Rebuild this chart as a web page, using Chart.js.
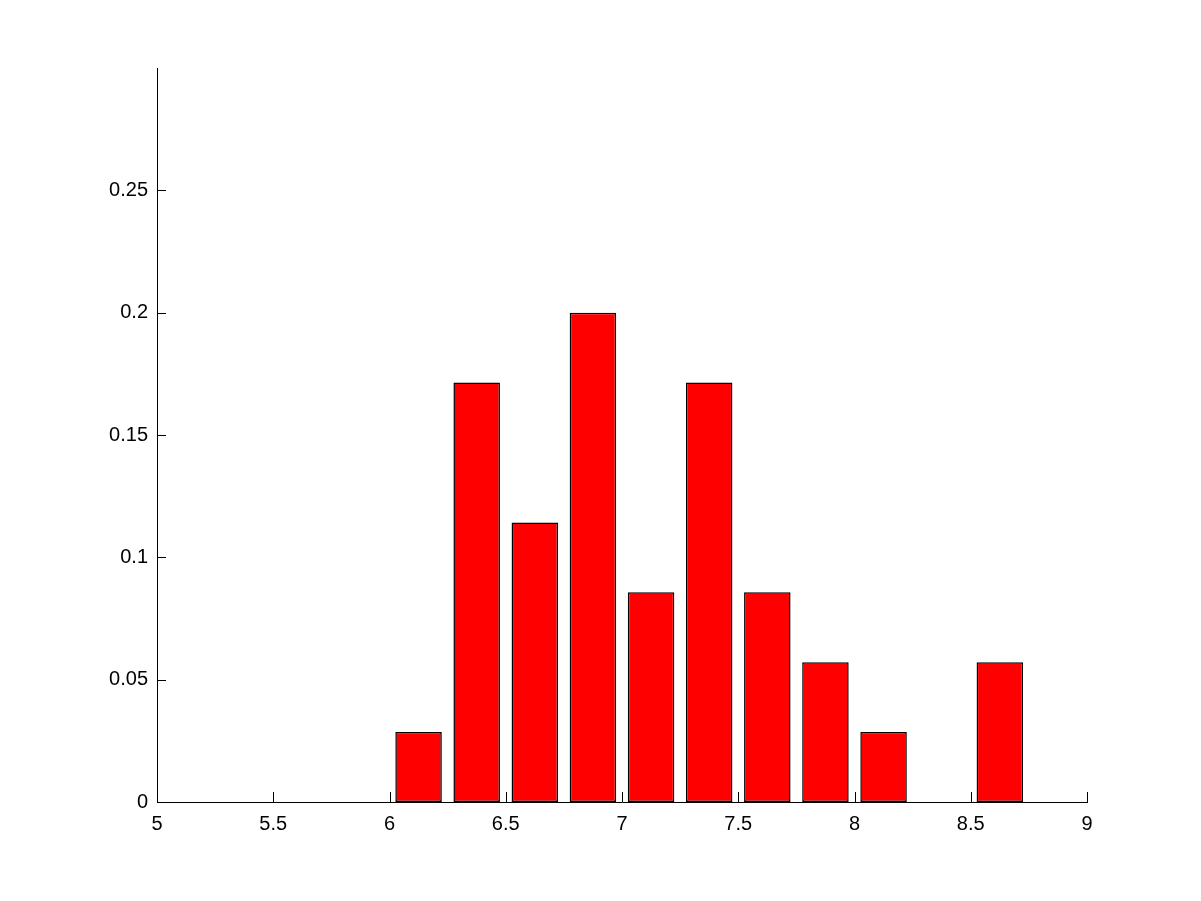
<!DOCTYPE html>
<html>
<head>
<meta charset="utf-8">
<script src="https://cdn.jsdelivr.net/npm/chart.js@4.4.0/dist/chart.umd.min.js"></script>
<style>
  html, body { margin: 0; padding: 0; background: #fff; }
  #wrap { width: 1201px; height: 901px; }
</style>
</head>
<body>
<div id="wrap"><canvas id="hist-chart" width="1201" height="901"></canvas></div>
<script>
// bin centres and relative frequencies (counts / 35)
var binCenters = [6.125, 6.375, 6.625, 6.875, 7.125, 7.375, 7.625, 7.875, 8.125, 8.375, 8.625];
var freqs = [1/35, 6/35, 4/35, 7/35, 3/35, 6/35, 3/35, 2/35, 1/35, 0, 2/35];
var xTicks = [5, 5.5, 6, 6.5, 7, 7.5, 8, 8.5, 9];
var yTicks = [0, 0.05, 0.1, 0.15, 0.2, 0.25];

var font = { family: '"Liberation Sans", Arial, Helvetica, sans-serif', size: 20 };

// matlab style inward tick marks
var inwardTicks = {
	id: 'inwardTicks',
	afterDraw: function(chart) {
		var c = chart.ctx, a = chart.chartArea;
		var xs = chart.scales.x, ys = chart.scales.y;
		c.save();
		c.strokeStyle = '#000';
		c.lineWidth = 1;
		c.beginPath();
		xs.ticks.forEach(function(t) {
			var px = Math.round(xs.getPixelForValue(t.value)) + 0.5;
			c.moveTo(px, a.bottom);
			c.lineTo(px, a.bottom - 10);
		});
		ys.ticks.forEach(function(t) {
			var py = Math.round(ys.getPixelForValue(t.value)) + 0.5;
			c.moveTo(a.left, py);
			c.lineTo(a.left + 9, py);
		});
		c.stroke();
		c.restore();
	}
};

new Chart(document.getElementById('hist-chart'), {
	type: 'bar',
	data: {
		datasets: [{
			data: binCenters.map(function(x, i) { return { x: x, y: freqs[i] }; }),
			backgroundColor: '#ff0000',
			borderColor: '#000000',
			borderWidth: 1.5,
			borderSkipped: false,
			barPercentage: 0.8,
			categoryPercentage: 1.0,
		}],
	},
	options: {
		responsive: false,
		animation: false,
		events: [],
		layout: { padding: { top: 68, right: 114, left: 0, bottom: 0 } },
		plugins: {
			legend: { display: false },
			tooltip: { enabled: false },
		},
		scales: {
			x: {
				type: 'linear',
				min: 5,
				max: 9,
				offset: false,
				afterBuildTicks: function(s) { s.ticks = xTicks.map(function(v) { return { value: v }; }); },
				afterFit: function(s) { s.height = 99; },
				grid: { display: false, drawTicks: false },
				border: { display: true, color: '#000', width: 1 },
				ticks: {
					color: '#000', font: font, padding: 10, maxRotation: 0, autoSkip: false,
					callback: function(v) { return String(v); },
				},
			},
			y: {
				min: 0,
				max: 0.3,
				afterBuildTicks: function(s) { s.ticks = yTicks.map(function(v) { return { value: v }; }); },
				afterFit: function(s) { s.width = 157; },
				grid: { display: false, drawTicks: false },
				border: { display: true, color: '#000', width: 1 },
				ticks: {
					color: '#000', font: font, padding: 9,
					callback: function(v) { return String(v); },
				},
			},
		},
	},
	plugins: [inwardTicks],
});
</script>
</body>
</html>
